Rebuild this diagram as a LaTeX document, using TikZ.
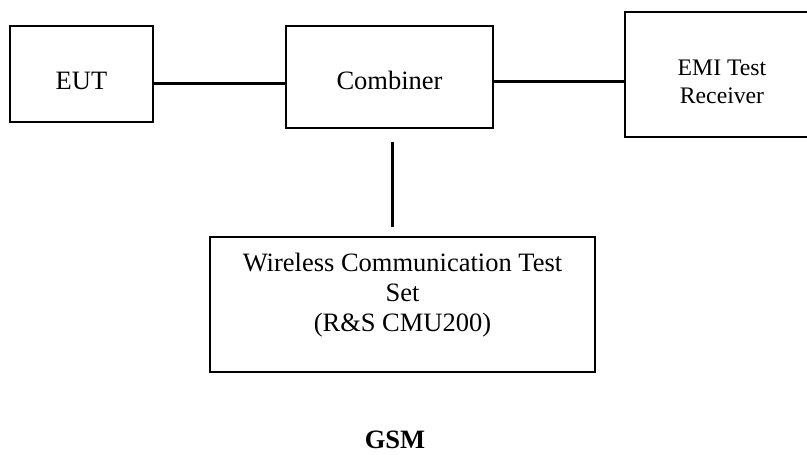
\documentclass[tikz,border=0pt]{standalone}
\usepackage{fontspec}
\setmainfont{Liberation Serif}

\begin{document}
\begin{tikzpicture}[x=1pt,y=-1pt]

        \useasboundingbox (0,0) rectangle (807,455);

        \begin{scope}[every node/.style={draw, line width=2pt, align=center, font=\fontsize{26.5}{30}\selectfont}]
          \node[minimum width=143pt, minimum height=96pt, text height=31.5pt, text depth=0pt] (eut) at (81.5,74) {EUT};
          \node[minimum width=207pt, minimum height=102pt, text height=25.5pt, text depth=0pt] (comb) at (389.5,77) {Combiner};
          \node[minimum width=194pt, minimum height=125pt, text height=58.7pt, text depth=0pt,
                font=\fontsize{23.7}{28}\selectfont] (emi) at (722,74.5) {EMI Test\\Receiver};
          \node[minimum width=385pt, minimum height=135pt, text height=53.6pt, text depth=0pt] (wcts) at (402.5,304.5)
               {Wireless Communication Test\\Set\\(R\&S CMU200)};
        \end{scope}

        \node[font=\fontsize{26.5}{30}\selectfont\bfseries] (gsm) at (395,440) {GSM};

        \begin{scope}[line width=3pt]
          \coordinate (top) at ([xshift=2.5pt,yshift=-13pt]comb.south);
          \coordinate (bot) at ([yshift=9pt]wcts.north);
          \draw ([yshift=-9pt]eut.east) -- ([yshift=-6pt]comb.west);
          \draw ([yshift=-4pt]comb.east) -- ([yshift=-6.5pt]emi.west);
          \draw (top) -- (top |- bot);
        \end{scope}

      \end{tikzpicture}
\end{document}
